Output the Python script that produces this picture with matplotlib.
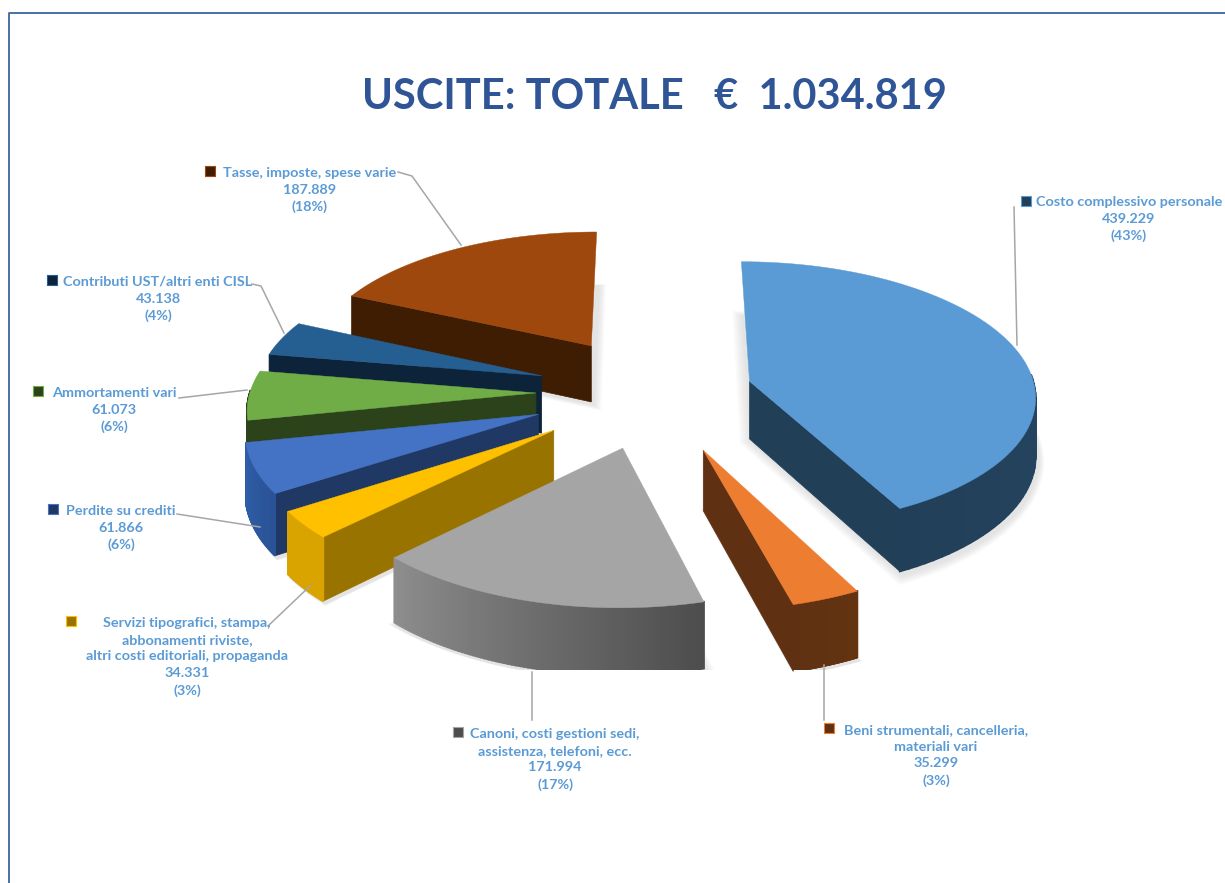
import numpy as np
import matplotlib
matplotlib.use('Agg')
import matplotlib.pyplot as plt
import matplotlib.colors as mcolors
from matplotlib.patches import Rectangle

title = "USCITE: TOTALE   €  1.034.819"
categories = ["Costo complessivo personale",
              "Beni strumentali, cancelleria,\nmateriali vari",
              "Canoni, costi gestioni sedi,\nassistenza, telefoni, ecc.",
              "Servizi tipografici, stampa,\nabbonamenti riviste,\naltri costi editoriali, propaganda",
              "Perdite su crediti",
              "Ammortamenti vari",
              "Contributi UST/altri enti CISL",
              "Tasse, imposte, spese varie"]
values = [439229, 35299, 171994, 34331, 61866, 61073, 43138, 187889]
percent = [43, 3, 17, 3, 6, 6, 4, 18]

# colours per slice: top, cut faces, rim left, rim right
top_cols = ['#5b9bd5', '#ed7d31', '#a5a5a5', '#ffc000', '#4472c4', '#70ad47', '#255e91', '#9e480e']
cut_cols = ['#223f58', '#5f3112', '#4d4d4d', '#997300', '#203864', '#2b421b', '#0d2339', '#3f1d02']
rim_a = ['#223f58', '#5f3112', '#8e8e8e', '#d9a300', '#2f5ea8', '#2b421b', '#0d2339', '#3f1d02']
rim_b = ['#2a4d6c', '#63340f', '#4d4d4d', '#d9a300', '#2a5296', '#2b421b', '#0d2339', '#3f1d02']

# pie layout, pixels
cx, cy = 655, 392
radius = 286
squash = 0.465
persp = 3000
depth = 58
explode = [98, 129, 120, 127, 124, 119, 120, 122]
floor_y = 670  # the source picture cuts the pie off here

# label layout: key x, key y, text centre x, first line y, leader line
lab_pos = [(1026, 201, 1129, 201), (829, 728, 936, 729), (458, 732, 555, 733), (71, 621, 187, 622),
           (53, 509, 121, 510), (38, 391, 114, 392), (52, 280, 158, 281), (210, 171, 310, 172)]
leaders = [[(1014, 207), (1017, 345)],
           [(824, 665), (824, 720)],
           [(532, 672), (532, 720)],
           [(268, 626), (310, 586)],
           [(177, 514), (260, 527)],
           [(179, 398), (247, 390)],
           [(252, 284), (261, 286), (284, 333)],
           [(398, 172), (412, 176), (461, 245)]]

plt.rcParams['font.family'] = ['Lato', 'DejaVu Sans']


def project(X, Y, z=0):
    # ground coordinates to picture pixels, Y comes towards the viewer
    k = 1 / (1 - np.asarray(Y, dtype=float) / persp)
    return cx + np.asarray(X) * k, cy + squash * np.asarray(Y) * k + z * k


fig = plt.figure(figsize=(12.25, 8.83), dpi=100)
ax = fig.add_axes([0, 0, 1, 1])
ax.set_xlim(0, 1225)
ax.set_ylim(883, 0)
ax.axis('off')

# frame, only left and top show
ax.plot([9, 9, 1225], [883, 13, 13], color='#4a6fa8', lw=1.4)

clip_rect = Rectangle((0, 0), 1225, floor_y, transform=ax.transData)

fracs = np.array(values) / sum(values)
edges = np.concatenate([[0], np.cumsum(fracs)]) * 2 * np.pi

slices = []
for i in range(len(values)):
    a, b = edges[i], edges[i + 1]
    mid = (a + b) / 2
    ax0 = explode[i] * np.sin(mid)
    ay0 = -explode[i] * np.cos(mid)
    th = np.linspace(a, b, 80)
    arc_x = ax0 + radius * np.sin(th)
    arc_y = ay0 - radius * np.cos(th)
    slices.append((ay0 - radius * 0.5 * (np.cos(a) + np.cos(b)) * 0.5, i, a, b, ax0, ay0, th, arc_x, arc_y))
slices.sort(key=lambda s: s[0])

# soft shadows under the slices
for s in slices:
    _, i, a, b, ax0, ay0, th, arc_x, arc_y = s
    gx = np.concatenate([[ax0], arc_x])
    gy = np.concatenate([[ay0], arc_y])
    mx, my = gx.mean(), gy.mean()
    for grow in [1.06, 1.05, 1.04, 1.03, 1.02, 1.01]:
        px, py = project(mx + (gx - mx) * grow + 2, my + (gy - my) * grow + 6, depth)
        for p in ax.fill(px, py, color='#808080', alpha=0.035, lw=0):
            p.set_clip_path(clip_rect)

# slices back to front
for s in slices:
    _, i, a, b, ax0, ay0, th, arc_x, arc_y = s

    # radial cut faces where they look at the viewer
    for ang, n_ang, ex, ey in [(a, a - np.pi / 2, arc_x[0], arc_y[0]), (b, b + np.pi / 2, arc_x[-1], arc_y[-1])]:
        if -np.cos(n_ang) > 0:
            p1 = project(ax0, ay0)
            p2 = project(ex, ey)
            p3 = project(ex, ey, depth)
            p4 = project(ax0, ay0, depth)
            ax.fill([p1[0], p2[0], p3[0], p4[0]], [p1[1], p2[1], p3[1], p4[1]],
                    color=cut_cols[i], lw=0.5)

    # rim, small quads so the colour can run along the arc
    ca = np.array(mcolors.to_rgb(rim_a[i]))
    cb = np.array(mcolors.to_rgb(rim_b[i]))
    for j in range(len(th) - 1):
        # only the front half of the circle shows
        if np.cos(th[j]) > 0.02 and np.cos(th[j + 1]) > 0.02:
            continue
        t = (th[j] - th[0]) / (th[-1] - th[0])
        col = cb * (1 - t) + ca * t
        t1 = project(arc_x[j:j + 2], arc_y[j:j + 2])
        t2 = project(arc_x[j:j + 2], arc_y[j:j + 2], depth)
        for p in ax.fill(np.r_[t1[0], t2[0][::-1]], np.r_[t1[1], t2[1][::-1]], color=col, lw=1.3):
            p.set_clip_path(clip_rect)

    # top face
    px, py = project(np.r_[ax0, arc_x], np.r_[ay0, arc_y])
    ax.fill(px, py, color=top_cols[i], lw=0.3)

# labels
text_col = '#5b9bd5'
for i, cat in enumerate(categories):
    kx, ky, tx, ty = lab_pos[i]
    ax.scatter([kx], [ky], marker='s', s=42, color=cut_cols[i], edgecolor=top_cols[i], linewidth=0.8, zorder=5)
    txt = "%s\n%s\n(%d%%)" % (cat, f"{values[i]:,}".replace(",", "."), percent[i])
    ax.text(tx, ty - 5, txt, ha='center', va='top', fontsize=10.4, fontweight='bold',
            color=text_col, linespacing=1.47, clip_on=True, zorder=5)
    lx, ly = zip(*leaders[i])
    ax.plot(lx, ly, color='#a6a6a6', lw=1.1, zorder=4)

ax.text(654, 97, title, ha='center', va='center', fontsize=30, fontweight='bold', color='#2f5597')

fig.savefig('out.png', dpi=100, facecolor='white')
